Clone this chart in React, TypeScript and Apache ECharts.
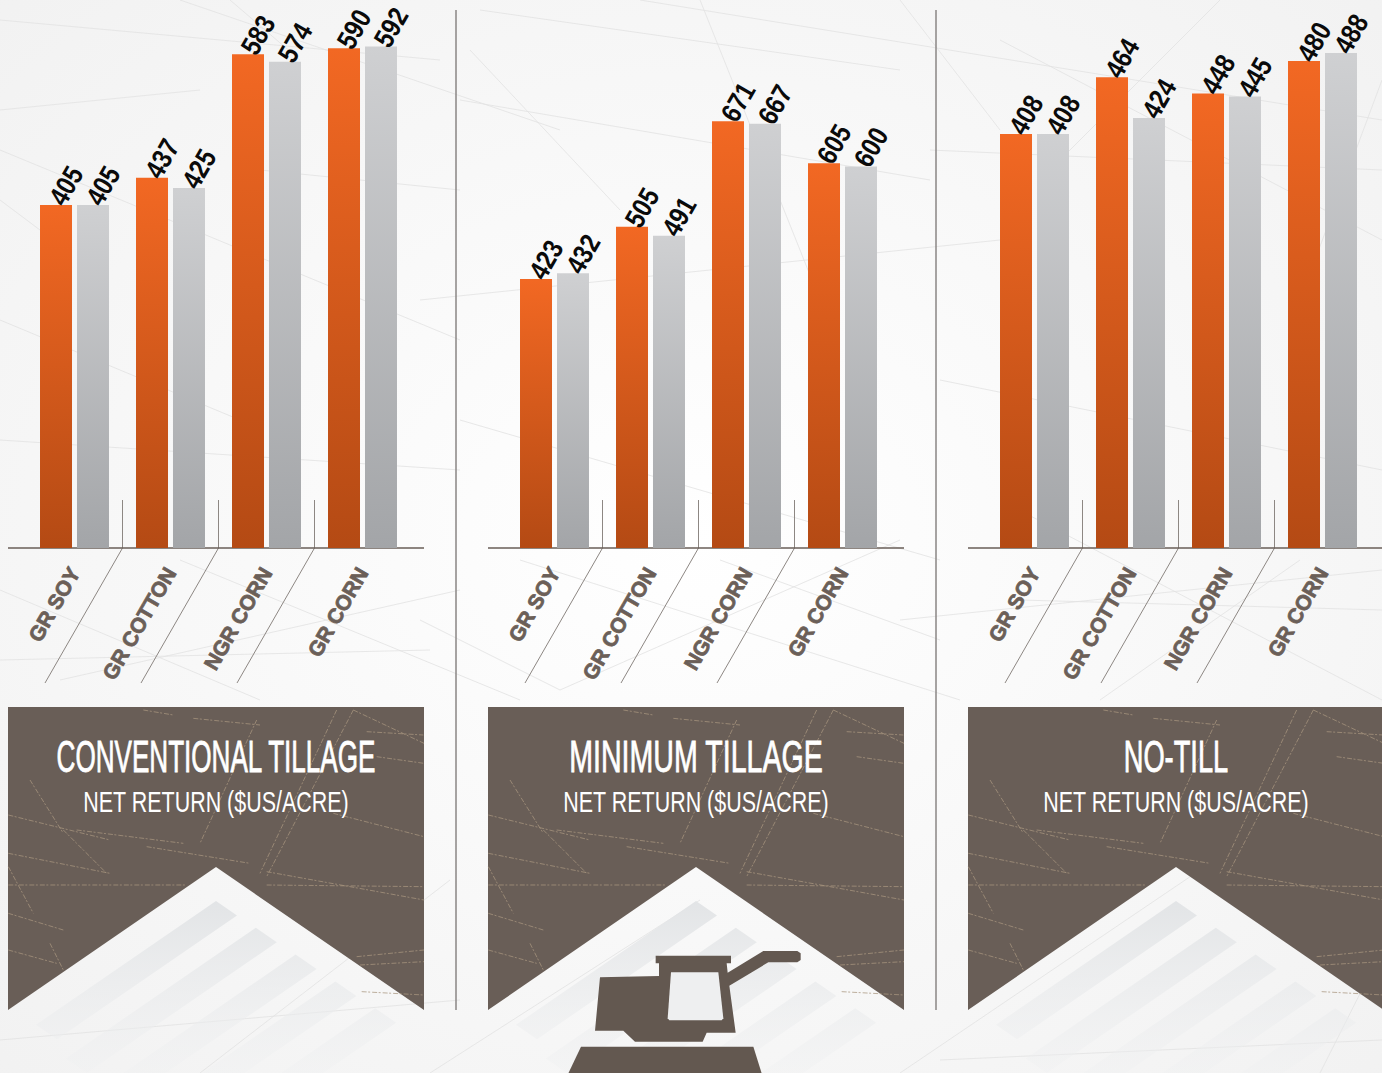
import React, { useEffect, useRef } from "react";
import * as echarts from "echarts";

const categories = ["GR SOY", "GR COTTON", "NGR CORN", "GR CORN"];
const panelTitles = ["CONVENTIONAL TILLAGE", "MINIMUM TILLAGE", "NO-TILL"];
const subtitle = "NET RETURN ($US/ACRE)";
const conventionalOrange = [405, 437, 583, 590];
const conventionalGray = [405, 425, 574, 592];
const minimumOrange = [423, 505, 671, 605];
const minimumGray = [432, 491, 667, 600];
const noTillOrange = [408, 464, 448, 480];
const noTillGray = [408, 424, 445, 488];
const orangeSets = [conventionalOrange, minimumOrange, noTillOrange];
const graySets = [conventionalGray, minimumGray, noTillGray];
const axisMaxima = [647, 861.6, 540.2];

const PANEL_X = [8, 488, 968];
const GRID_LEFT = [26.5, 506.5, 986.5];
const BROWN = "#695e57";
const SANS = '"Liberation Sans", sans-serif';
const TITLE_SCALE = [0.593, 0.65, 0.62];

const panelScratches = [
  [430, 30, 520, 45], [580, 55, 780, 75], [770, 60, 600, 430], [1010, 30, 780, 520], [1060, 30, 800, 530],
  [1060, 30, 1272, 130], [1100, 95, 1270, 105], [25, 345, 330, 420], [190, 390, 320, 520], [90, 240, 190, 400],
  [25, 460, 330, 520], [25, 555, 560, 555], [800, 515, 1272, 600], [440, 440, 750, 490], [25, 500, 100, 640],
  [1000, 340, 1272, 410], [1070, 770, 1272, 750], [1080, 795, 1272, 785], [1130, 170, 1272, 190], [230, 390, 550, 430],
  [25, 640, 190, 690], [150, 730, 190, 810], [25, 750, 170, 790], [800, 555, 1272, 560], [1085, 875, 1272, 885],
];
const backgroundScratches = [
  [180, 0, 560, 130], [0, 20, 440, 60], [260, 170, 460, 190], [480, 10, 900, 70], [640, 0, 1382, 120],
  [1000, 40, 1382, 240], [1220, 0, 1040, 180], [930, 150, 1382, 170], [0, 150, 460, 340], [0, 320, 240, 420],
  [420, 300, 1000, 240], [460, 420, 940, 560], [940, 380, 1382, 470], [1000, 500, 1382, 700], [0, 590, 260, 700],
  [180, 560, 520, 700], [520, 560, 960, 700], [900, 620, 1382, 570], [60, 680, 460, 590], [560, 690, 900, 540],
  [0, 1040, 460, 1000], [940, 1060, 1382, 1040], [430, 1073, 700, 900], [900, 1073, 1200, 870], [200, 1073, 450, 880],
  [1300, 300, 1382, 80], [700, 0, 820, 300], [1100, 700, 1300, 560], [300, 60, 230, 0], [1382, 950, 1320, 1073],
  [0, 440, 460, 470], [0, 200, 40, 230], [460, 100, 930, 180], [470, 50, 620, 210], [900, 0, 1000, 130],
  [0, 110, 200, 90], [420, 620, 560, 690], [720, 560, 940, 640], [1020, 600, 1382, 610], [0, 660, 430, 650],
];

const harvesterBody = [[360, 412], [537, 408], [537, 370], [527, 370], [527, 347], [753, 347], [753, 370], [740, 370], [743, 398], [850, 333], [952, 333], [962, 340], [962, 360], [952, 367], [865, 367], [748, 437], [767, 578], [680, 578], [668, 605], [465, 605], [430, 572], [345, 572]];
const harvesterWindow = [[573, 397], [715, 397], [730, 535], [725, 541], [568, 541], [563, 535]];
const harvesterTrack = [[303, 620], [820, 620], [845, 700], [265, 700]];

function panelGraphics(i: number) {
  const x0 = PANEL_X[i];
  const out: any[] = [];
  out.push({
    type: "polygon",
    shape: { points: [[x0, 707], [x0 + 416, 707], [x0 + 416, 1010], [x0 + 208, 867], [x0, 1010]] },
    style: { fill: BROWN },
  });
  panelScratches.forEach((s) => {
    out.push({
      type: "line",
      shape: { x1: x0 + s[0] / 3 - 8, y1: 700 + s[1] / 3, x2: x0 + s[2] / 3 - 8, y2: 700 + s[3] / 3 },
      style: { stroke: "#a8957f", lineWidth: 1, opacity: 0.75, lineDash: [5, 1.5, 2, 2] },
    });
  });
  const stripeLens = [180, 190, 200, 210, 220];
  stripeLens.forEach((len, k) => {
    const ax = x0 + 208 + k * 39.8;
    const ay = 901 + k * 26.8;
    const dx = -len;
    const dy = len * 0.6875;
    out.push({
      type: "polygon",
      shape: { points: [[ax, ay], [ax + 21, ay + 14.5], [ax + 21 + dx, ay + 14.5 + dy], [ax + dx, ay + dy]] },
      style: {
        fill: new echarts.graphic.LinearGradient(0, 900, 0, 1090, [
          { offset: 0, color: "rgba(226,228,230,1)" },
          { offset: 1, color: "rgba(240,241,242,0.25)" },
        ], true),
      },
    });
  });
  for (let c = 1; c < 4; c++) {
    const dx = GRID_LEFT[i] + c * 96;
    out.push({
      type: "polyline",
      shape: { points: [[dx, 500], [dx, 548], [dx - 77.5, 683]] },
      style: { stroke: "#8d8783", lineWidth: 1, fill: "none" },
    });
  }
  out.push({
    type: "line",
    shape: { x1: x0, y1: 548, x2: x0 + 416, y2: 548 },
    style: { stroke: BROWN, lineWidth: 1.5 },
  });
  out.push({
    type: "text",
    x: x0 + 208,
    y: 757,
    scaleX: TITLE_SCALE[i],
    style: { text: panelTitles[i], fill: "#ffffff", stroke: "#ffffff", lineWidth: 0.8, font: `400 44px ${SANS}`, textAlign: "center", textVerticalAlign: "middle" },
  });
  out.push({
    type: "text",
    x: x0 + 208,
    y: 802,
    scaleX: 0.74,
    style: { text: subtitle, fill: "#ffffff", font: `400 29px ${SANS}`, textAlign: "center", textVerticalAlign: "middle" },
  });
  return out;
}

function harvester() {
  const conv = (pts: number[][]) => pts.map((p) => [480 + p[0] / 3, 840 + p[1] / 3]);
  return [
    { type: "polygon", z: 5, shape: { points: conv(harvesterBody) }, style: { fill: "#635850" } },
    { type: "polygon", z: 6, shape: { points: conv(harvesterWindow) }, style: { fill: "#eeeff0" } },
    { type: "polygon", z: 5, shape: { points: conv(harvesterTrack) }, style: { fill: "#635850" } },
  ];
}

function valueLabelRenderer(offset: number) {
  return (_params: any, api: any) => {
    const p = api.coord([api.value(0), api.value(1)]);
    return {
      type: "text",
      x: p[0] + offset,
      y: p[1] - 2,
      rotation: Math.PI / 3,
      scaleX: 0.85,
      style: {
        text: String(api.value(1)),
        fill: "#0a0a0a",
        font: `bold 28px ${SANS}`,
        textAlign: "left",
        textVerticalAlign: "middle",
      },
    };
  };
}

function buildOption() {
  const bg = {
    type: "rect",
    shape: { x: 0, y: 0, width: 1382, height: 1073 },
    style: {
      fill: new echarts.graphic.RadialGradient(0.5, 0.5, 0.75, [
        { offset: 0, color: "#ffffff" },
        { offset: 1, color: "#f1f1f1" },
      ]),
    },
  };
  const scratches = backgroundScratches.map((s) => ({
    type: "line",
    shape: { x1: s[0], y1: s[1], x2: s[2], y2: s[3] },
    style: { stroke: "#e2e2e2", lineWidth: 1, opacity: 0.8 },
  }));
  const separators = [456, 936].map((x) => ({
    type: "line",
    shape: { x1: x, y1: 10, x2: x, y2: 1010 },
    style: { stroke: "#8a8684", lineWidth: 1.5 },
  }));

  const grids = GRID_LEFT.map((left) => ({ left, top: 0, width: 384, height: 548 }));
  const xAxes = GRID_LEFT.map((_, i) => ({
    type: "category",
    gridIndex: i,
    data: categories,
    axisLine: { show: false },
    axisTick: { show: false },
    axisLabel: {
      interval: 0,
      rotate: 60,
      margin: 21,
      color: "#6b5f58",
      fontFamily: SANS,
      fontWeight: 700,
      fontSize: 21,
      textBorderColor: "#6b5f58",
      textBorderWidth: 0.8,
    },
  }));
  const yAxes = axisMaxima.map((max, i) => ({
    type: "value",
    gridIndex: i,
    min: 0,
    max,
    show: false,
  }));
  const series: any[] = [];
  GRID_LEFT.forEach((_, i) => {
    series.push({
      type: "bar",
      name: "Orange " + panelTitles[i],
      xAxisIndex: i,
      yAxisIndex: i,
      data: orangeSets[i],
      barWidth: 32,
      barGap: "15.6%",
      itemStyle: {
        color: new echarts.graphic.LinearGradient(0, 0, 0, 1, [
          { offset: 0, color: "#f26823" },
          { offset: 1, color: "#b44a14" },
        ]),
      },
    });
    series.push({
      type: "bar",
      name: "Gray " + panelTitles[i],
      xAxisIndex: i,
      yAxisIndex: i,
      data: graySets[i],
      barWidth: 32,
      barGap: "15.6%",
      itemStyle: {
        color: new echarts.graphic.LinearGradient(0, 0, 0, 1, [
          { offset: 0, color: "#cfd0d2" },
          { offset: 1, color: "#a3a5a8" },
        ]),
      },
    });
    series.push({
      type: "custom",
      name: "Orange labels " + panelTitles[i],
      xAxisIndex: i,
      yAxisIndex: i,
      z: 5,
      clip: false,
      data: orangeSets[i].map((v, c) => [c, v]),
      renderItem: valueLabelRenderer(-18.5),
    });
    series.push({
      type: "custom",
      name: "Gray labels " + panelTitles[i],
      xAxisIndex: i,
      yAxisIndex: i,
      z: 5,
      clip: false,
      data: graySets[i].map((v, c) => [c, v]),
      renderItem: valueLabelRenderer(18.5),
    });
  });

  return {
    animation: false,
    backgroundColor: "#f8f8f8",
    grid: grids,
    xAxis: xAxes,
    yAxis: yAxes,
    series,
    graphic: {
      elements: [
        bg,
        ...scratches,
        ...separators,
        ...panelGraphics(0),
        ...panelGraphics(1),
        ...panelGraphics(2),
        ...harvester(),
      ],
    },
  };
}

export default function App() {
  const ref = useRef<HTMLDivElement>(null);
  useEffect(() => {
    document.body.style.margin = "0";
    document.body.style.overflow = "hidden";
    const chart = echarts.init(ref.current!, undefined, { renderer: "svg" });
    chart.setOption(buildOption() as any);
    return () => chart.dispose();
  }, []);
  return <div ref={ref} style={{ position: "absolute", left: 0, top: 0, width: 1382, height: 1073 }} />;
}
